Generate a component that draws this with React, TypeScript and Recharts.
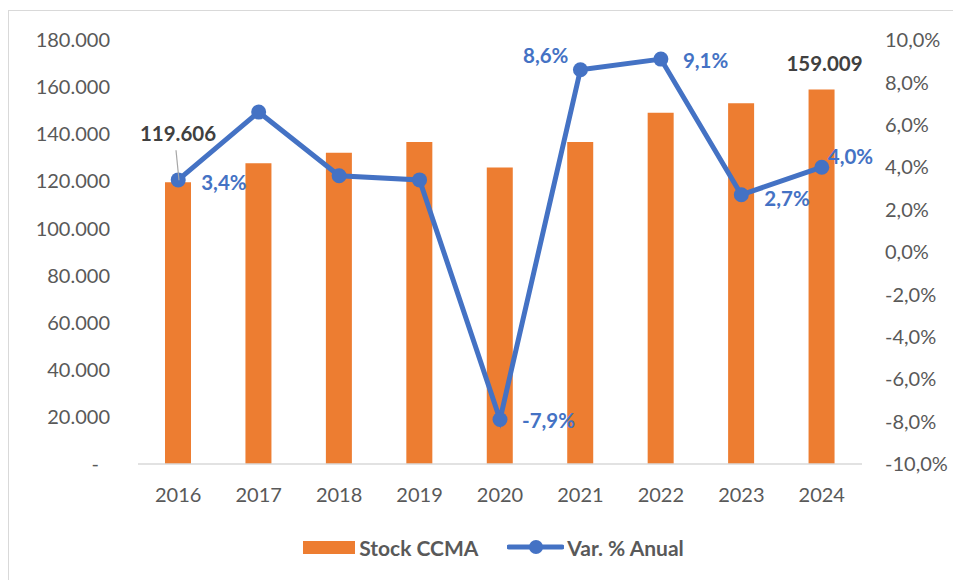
import {
  ComposedChart, Bar, Line, XAxis, YAxis, Legend, LabelList,
} from 'recharts';

const years = ['2016', '2017', '2018', '2019', '2020', '2021', '2022', '2023', '2024'];
const stock = [119606, 127650, 132130, 136700, 125900, 136700, 149130, 153120, 159009];
const varAnual = [3.4, 6.6, 3.6, 3.4, -7.9, 8.6, 9.1, 2.7, 4.0];
const leftTicks = [0, 20000, 40000, 60000, 80000, 100000, 120000, 140000, 160000, 180000];
const rightTicks = [-10, -8, -6, -4, -2, 0, 2, 4, 6, 8, 10];
const labeledStock = [0, 8];
const labeledVar = [0, 4, 5, 6, 7, 8];

const data = years.map((year, i) => ({ year, stock: stock[i], pct: varAnual[i] }));

const FONT = 'Lato, "Noto Sans", sans-serif';
const ORANGE = '#ED7D31';
const BLUE = '#4472C4';
const GRAY = '#595959';
const DARK = '#404040';

const fmtThousands = (v: number) =>
  v === 0 ? '-' : Math.round(v).toString().replace(/\B(?=(\d{3})+(?!\d))/g, '.');
const fmtPct = (v: number) => `${v.toFixed(1).replace('.', ',')}%`;

// label offsets relative to each point
const pctOffsets: Record<number, { dx: number; dy: number; anchor: 'start' | 'end' }> = {
  0: { dx: 23, dy: 3, anchor: 'start' },
  4: { dx: 22, dy: 1, anchor: 'start' },
  5: { dx: -12, dy: -14, anchor: 'end' },
  6: { dx: 22, dy: 2, anchor: 'start' },
  7: { dx: 23, dy: 4, anchor: 'start' },
  8: { dx: 6, dy: -10, anchor: 'start' },
};

function LeftTick(props: any) {
  const { x, y, payload } = props;
  const isZero = payload.value === 0;
  return (
    <text x={isZero ? x - 11 : x} y={y} dy="0.355em" textAnchor="end"
      fontFamily={FONT} fontSize={20} fill={GRAY}>
      {fmtThousands(payload.value)}
    </text>
  );
}

function PctLabel(props: any) {
  const { x, y, value, index } = props;
  if (!labeledVar.includes(index)) return null;
  const o = pctOffsets[index];
  return (
    <text x={x + o.dx} y={y + o.dy} dy="0.355em" textAnchor={o.anchor}
      fontFamily={FONT} fontSize={20.5} fontWeight={700} fill={BLUE}>
      {fmtPct(value)}
    </text>
  );
}

function StockLabel(props: any) {
  const { x, y, width, value, index } = props;
  if (!labeledStock.includes(index)) return null;
  const cx = x + width / 2;
  if (index === 0) {
    return (
      <g>
        <line x1={cx - 2} y1={y - 32} x2={cx + 1} y2={y - 2} stroke="#a6a6a6" strokeWidth={1.2} />
        <text x={cx} y={y - 49} dy="0.355em" textAnchor="middle"
          fontFamily={FONT} fontSize={20.5} fontWeight={700} fill={DARK}>
          {fmtThousands(value)}
        </text>
      </g>
    );
  }
  return (
    <text x={cx + 3} y={y - 26} dy="0.355em" textAnchor="middle"
      fontFamily={FONT} fontSize={20.5} fontWeight={700} fill={DARK}>
      {fmtThousands(value)}
    </text>
  );
}

function ChartLegend() {
  return (
    <div style={{
      display: 'flex', justifyContent: 'center', alignItems: 'center', height: 30,
      paddingLeft: 17, fontFamily: FONT, fontSize: 21, fontWeight: 700, color: GRAY,
    }}>
      <svg width={52} height={13}><rect x={0} y={0} width={52} height={13} fill={ORANGE} /></svg>
      <span style={{ marginLeft: 4 }}>Stock CCMA</span>
      <svg width={57} height={16} style={{ marginLeft: 29 }}>
        <line x1={2} y1={8} x2={55} y2={8} stroke={BLUE} strokeWidth={5} strokeLinecap="round" />
        <circle cx={29} cy={8} r={7} fill={BLUE} />
      </svg>
      <span style={{ marginLeft: 3 }}>Var. % Anual</span>
    </div>
  );
}

export default function App() {
  return (
    <div style={styles.frame}>
      <ComposedChart width={952} height={568} data={data}
        margin={{ top: 29, right: 0, left: 0, bottom: 17 }}>
        <XAxis dataKey="year" height={68} tickSize={0} tickMargin={24}
          axisLine={{ stroke: '#d9d9d9', strokeWidth: 1.5 }}
          tick={{ fontFamily: FONT, fontSize: 20, fill: GRAY }} />
        <YAxis yAxisId="left" width={129} domain={[0, 180000]} ticks={leftTicks}
          interval={0} axisLine={false} tickLine={false} tickSize={0} tickMargin={28}
          tick={<LeftTick />} />
        <YAxis yAxisId="right" orientation="right" width={99} domain={[-10, 10]}
          ticks={rightTicks} interval={0} axisLine={false} tickLine={false} tickSize={0}
          tickMargin={23} tickFormatter={fmtPct}
          tick={{ fontFamily: FONT, fontSize: 20, fill: GRAY, textAnchor: 'start' }} />
        <Legend verticalAlign="bottom" content={<ChartLegend />}
          wrapperStyle={{ left: 0, width: 952 }} />
        <Bar yAxisId="left" dataKey="stock" name="Stock CCMA" fill={ORANGE}
          barSize={26} isAnimationActive={false}>
          <LabelList dataKey="stock" content={<StockLabel />} />
        </Bar>
        <Line yAxisId="right" dataKey="pct" name="Var. % Anual" type="linear"
          stroke={BLUE} strokeWidth={5} isAnimationActive={false}
          dot={{ r: 7.5, fill: BLUE, stroke: BLUE, strokeWidth: 0 }} activeDot={false}>
          <LabelList dataKey="pct" content={<PctLabel />} />
        </Line>
      </ComposedChart>
    </div>
  );
}

const styles: Record<string, React.CSSProperties> = {
  frame: {
    width: 953,
    height: 575,
    marginTop: 2,
    border: '1px solid #d9d9d9',
    background: '#fff',
  },
};
